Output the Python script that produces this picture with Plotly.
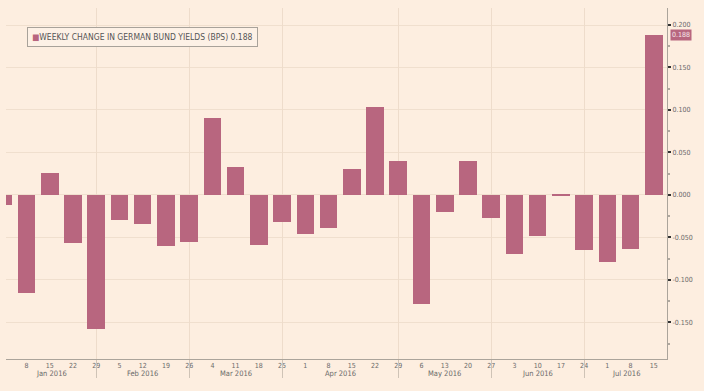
import plotly.graph_objects as go
import pandas as pd

# ---- data ----
week_dates = [
    "2016-01-01", "2016-01-08", "2016-01-15", "2016-01-22", "2016-01-29",
    "2016-02-05", "2016-02-12", "2016-02-19", "2016-02-26",
    "2016-03-04", "2016-03-11", "2016-03-18", "2016-03-25",
    "2016-04-01", "2016-04-08", "2016-04-15", "2016-04-22", "2016-04-29",
    "2016-05-06", "2016-05-13", "2016-05-20", "2016-05-27",
    "2016-06-03", "2016-06-10", "2016-06-17", "2016-06-24",
    "2016-07-01", "2016-07-08", "2016-07-15",
]
weekly_change = [
    -0.012, -0.115, 0.026, -0.056, -0.158,
    -0.029, -0.034, -0.060, -0.055,
    0.091, 0.033, -0.059, -0.032,
    -0.046, -0.039, 0.031, 0.103, 0.040,
    -0.128, -0.020, 0.040, -0.027,
    -0.070, -0.048, -0.001, -0.065,
    -0.079, -0.063, 0.188,
]
tick_dates = week_dates[1:]
tick_days = ["8", "15", "22", "29", "5", "12", "19", "26", "4", "11", "18", "25",
             "1", "8", "15", "22", "29", "6", "13", "20", "27", "3", "10", "17", "24",
             "1", "8", "15"]
month_separators = ["2016-01-29", "2016-02-26", "2016-03-25", "2016-04-29",
                    "2016-05-27", "2016-06-24"]
month_labels = ["Jan 2016", "Feb 2016", "Mar 2016", "Apr 2016", "May 2016",
                "Jun 2016", "Jul 2016"]
y_ticks = [0.2, 0.15, 0.1, 0.05, 0.0, -0.05, -0.1, -0.15]
y_ticktext = ["0.200", "0.150", "0.100", "0.050", "0.000", "-0.050", "-0.100", "-0.150"]
series_name = "WEEKLY CHANGE IN GERMAN BUND YIELDS (BPS)"
last_value = "0.188"

# ---- style ----
BG = "#FDEEE0"
BAR = "#B8667F"
GRID = "#F0DFCE"
AXIS = "#ABA49B"
TXT = "#6A6A6A"
FONT = "Liberation Sans Narrow, DejaVu Sans Condensed, Arial Narrow, sans-serif"

x_start = pd.Timestamp("2016-01-01 19:40")
x_end = pd.Timestamp("2016-07-18 23:20")
bar_width_ms = 5.3 * 86400000

fig = go.Figure()
fig.add_trace(go.Bar(
    x=week_dates, y=weekly_change, width=bar_width_ms,
    marker=dict(color=BAR, line=dict(width=0)),
    showlegend=False, xaxis="x", yaxis="y", hoverinfo="x+y",
))
# invisible helper trace so the month-separator axis is drawn
fig.add_trace(go.Scatter(
    x=month_separators, y=[0] * len(month_separators), mode="markers",
    marker=dict(opacity=0), xaxis="x2", yaxis="y", showlegend=False, hoverinfo="skip",
))

# month label positions: midpoint between separators
bounds = [x_start] + [pd.Timestamp(s) for s in month_separators] + [x_end]
annotations = []
for i, lab in enumerate(month_labels):
    mid = bounds[i] + (bounds[i + 1] - bounds[i]) / 2
    annotations.append(dict(
        x=mid, xref="x", y=-0.040, yref="paper", text=lab, showarrow=False,
        font=dict(family=FONT, size=7.5, color=TXT), yanchor="middle", xanchor="center",
    ))

annotations.append(dict(
    x=0.0318, xref="paper", y=0.946, yref="paper", xanchor="left", yanchor="top",
    text=f'<span style="color:{BAR}">■</span>{series_name} {last_value}',
    showarrow=False, align="left",
    font=dict(family=FONT, size=8.5, color="#555555"),
    bordercolor="#A8A29A", borderwidth=1, borderpad=4, bgcolor="#FDF1E6",
))
annotations.append(dict(
    x=1, xref="paper", y=0.188, yref="y", xanchor="left", yanchor="middle",
    xshift=3, text=last_value, showarrow=False,
    font=dict(family=FONT, size=7, color="#F6E6EA"),
    bgcolor=BAR, borderpad=1,
))

fig.update_layout(
    width=704, height=391,
    margin=dict(l=6, r=37, t=8, b=32),
    paper_bgcolor=BG, plot_bgcolor=BG,
    bargap=0,
    xaxis=dict(
        type="date", range=[x_start, x_end], tickmode="array",
        tickvals=tick_dates, ticktext=tick_days, ticks="",
        tickfont=dict(family=FONT, size=7, color=TXT),
        showline=True, linecolor=AXIS, linewidth=1,
        showgrid=False, zeroline=False,
    ),
    xaxis2=dict(
        type="date", range=[x_start, x_end], overlaying="x", anchor="y", side="bottom",
        tickmode="array", tickvals=month_separators,
        ticktext=[""] * len(month_separators),
        ticks="outside", ticklen=18, tickcolor="#CFC3B6", tickwidth=1,
        showgrid=True, gridcolor="#EEDCCB", gridwidth=1,
        showline=False, zeroline=False,
    ),
    yaxis=dict(
        side="right", range=[-0.193, 0.22],
        tickvals=y_ticks, ticktext=y_ticktext,
        tickfont=dict(family=FONT, size=7, color=TXT),
        ticks="outside", ticklen=3, tickwidth=2, tickcolor="#333333",
        minor=dict(dtick=0.025, tick0=0, ticks="outside", ticklen=2, tickcolor="#B0A89F",
                   showgrid=False),
        showline=True, linecolor=AXIS, linewidth=1,
        showgrid=True, gridcolor=GRID, gridwidth=1,
        zeroline=False,
    ),
    annotations=annotations,
)

fig.write_html("out.html", config={"displayModeBar": False},
               post_script="document.body.style.margin='0';")
